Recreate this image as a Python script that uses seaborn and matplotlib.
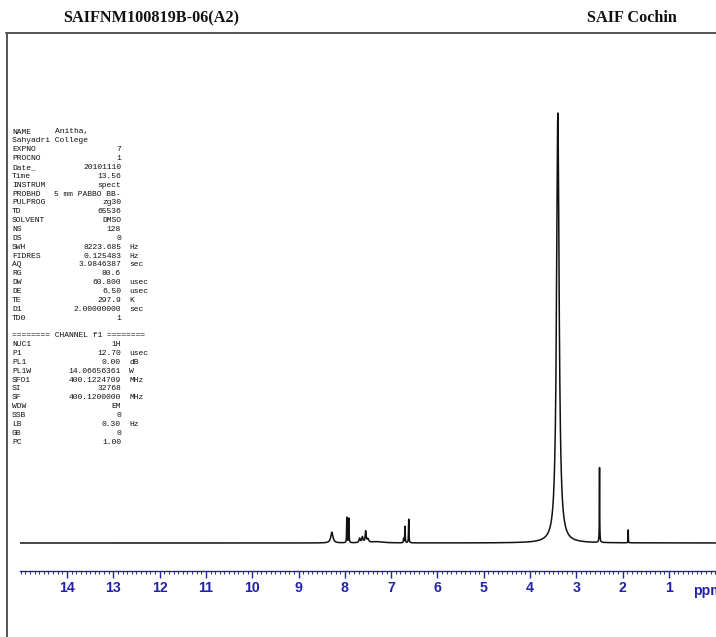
import numpy as np
import pandas as pd
import matplotlib
matplotlib.use("Agg")
import matplotlib.pyplot as plt
from matplotlib.lines import Line2D
import seaborn as sns

# ---------------- data ----------------
title_left = "SAIFNM100819B-06(A2)"
title_right = "SAIF Cochin"

# peaks: position (ppm), relative height (largest = 100), FWHM (ppm)
peak_ppm    = [3.40, 2.50, 1.88, 8.28, 7.957, 7.913, 7.68, 7.62, 7.55, 7.50, 7.30, 6.73, 6.70, 6.62]
peak_height = [100.0, 17.4, 3.0, 2.5, 5.9, 5.7, 1.0, 1.3, 2.6, 0.8, 0.3, 1.0, 3.8, 5.5]
peak_width  = [0.066, 0.008, 0.006, 0.055, 0.010, 0.010, 0.03, 0.03, 0.025, 0.04, 0.30, 0.012, 0.010, 0.010]

tick_values = list(range(1, 15))
tick_labels = [str(v) for v in tick_values]

param_names = ["NAME", "Sahyadri College", "EXPNO", "PROCNO", "Date_", "Time", "INSTRUM",
               "PROBHD", "PULPROG", "TD", "SOLVENT", "NS", "DS", "SWH", "FIDRES", "AQ",
               "RG", "DW", "DE", "TE", "D1", "TD0", "",
               "======== CHANNEL f1 ========",
               "NUC1", "P1", "PL1", "PL1W", "SFO1", "SI", "SF", "WDW", "SSB", "LB", "GB", "PC"]
param_values = ["Anitha,", "", "7", "1", "20101110", "13.56", "spect",
                "5 mm PABBO BB-", "zg30", "65536", "DMSO", "128", "0", "8223.685", "0.125483",
                "3.9846387", "80.6", "60.800", "6.50", "297.9", "2.00000000", "1", "",
                "",
                "1H", "12.70", "0.00", "14.06656361", "400.1224709", "32768", "400.1200000",
                "EM", "0", "0.30", "0", "1.00"]
param_units = ["", "", "", "", "", "", "", "", "", "", "", "", "", "Hz", "Hz", "sec",
               "", "usec", "usec", "K", "sec", "", "", "",
               "", "usec", "dB", "W", "MHz", "", "MHz", "", "", "Hz", "", ""]

# ---------------- spectrum from the peak list ----------------
ppm = np.arange(-0.1, 15.2, 0.001)
intensity = np.zeros_like(ppm)
for p, h, w in zip(peak_ppm, peak_height, peak_width):
    hw = w / 2.0
    intensity += h * hw**2 / ((ppm - p) ** 2 + hw**2)
df = pd.DataFrame({"ppm": ppm, "intensity": intensity})

axis_family = ["Liberation Sans", "DejaVu Sans"]
axis_fs = 10.2

# ---------------- figure ----------------
sns.set_style("white")
W, H = 716, 637
fig = plt.figure(figsize=(W / 100, H / 100), dpi=100)

def fx(x):
    return x / W

def fy(y):
    return 1 - y / H

ax_left, ax_right = 20, 716
ax_bottom, ax_top = 571, 100
ax = fig.add_axes([fx(ax_left), fy(ax_bottom), (ax_right - ax_left) / W, (ax_bottom - ax_top) / H])

sns.lineplot(data=df, x="ppm", y="intensity", ax=ax, color="#111111",
             linewidth=1.1, estimator=None, sort=False)

px_per_unit = 4.3
base_px = 28
ax.set_ylim(-base_px / px_per_unit, (ax_bottom - ax_top - base_px) / px_per_unit)
ax.set_xlim(15.015, -0.015)
ax.set_facecolor("none")

blue = "#2222a6"
for s in ["top", "left", "right"]:
    ax.spines[s].set_visible(False)
ax.spines["bottom"].set_color(blue)
ax.spines["bottom"].set_linewidth(1.0)
ax.set_yticks([])
ax.set_xlabel("")
ax.set_ylabel("")
ax.set_xticks(tick_values)
ax.set_xticklabels(tick_labels)
ax.set_xticks(np.arange(0, 15.05, 0.1), minor=True)
ax.tick_params(axis="x", which="major", direction="out", length=5, width=1.0,
               color=blue, labelcolor=blue, pad=2.5, bottom=True)
ax.tick_params(axis="x", which="minor", direction="out", length=2.5, width=0.7,
               color=blue, bottom=True)
for lab in ax.get_xticklabels():
    lab.set_fontfamily(axis_family)
    lab.set_fontweight("bold")
    lab.set_fontsize(axis_fs)
ax.text(0.48, -0.028, "ppm", transform=ax.get_xaxis_transform(), ha="left", va="top",
        color=blue, fontsize=axis_fs, fontweight="bold",
        family=axis_family, clip_on=False)

# frame around the page
fig.add_artist(Line2D([fx(6), fx(716)], [fy(33), fy(33)], color="#555555", linewidth=1.4))
fig.add_artist(Line2D([fx(7), fx(7)], [fy(33), fy(637)], color="#555555", linewidth=1.4))

# titles
fig.text(fx(63), fy(18), title_left, ha="left", va="center", fontsize=11.7,
         fontweight="bold", family=["Liberation Serif", "DejaVu Serif"], color="#111111")
fig.text(fx(587), fy(18), title_right, ha="left", va="center", fontsize=11.7,
         fontweight="bold", family=["Liberation Serif", "DejaVu Serif"], color="#111111")

# parameter block
mono = ["Liberation Mono", "DejaVu Sans Mono"]
fs = 5.8
tcol = "#111111"
y0, dy = 132, 8.86
for i, (n, v, u) in enumerate(zip(param_names, param_values, param_units)):
    y = fy(y0 + i * dy)
    fig.text(fx(12), y, n, ha="left", va="center", fontsize=fs, family=mono, color=tcol)
    if not v:
        continue
    if n == "NAME":
        fig.text(fx(55), y, v, ha="left", va="center", fontsize=fs, family=mono, color=tcol)
    else:
        fig.text(fx(121), y, v, ha="right", va="center", fontsize=fs, family=mono, color=tcol)
    if u:
        fig.text(fx(129), y, u, ha="left", va="center", fontsize=fs, family=mono, color=tcol)

fig.savefig("out.png", dpi=100)
